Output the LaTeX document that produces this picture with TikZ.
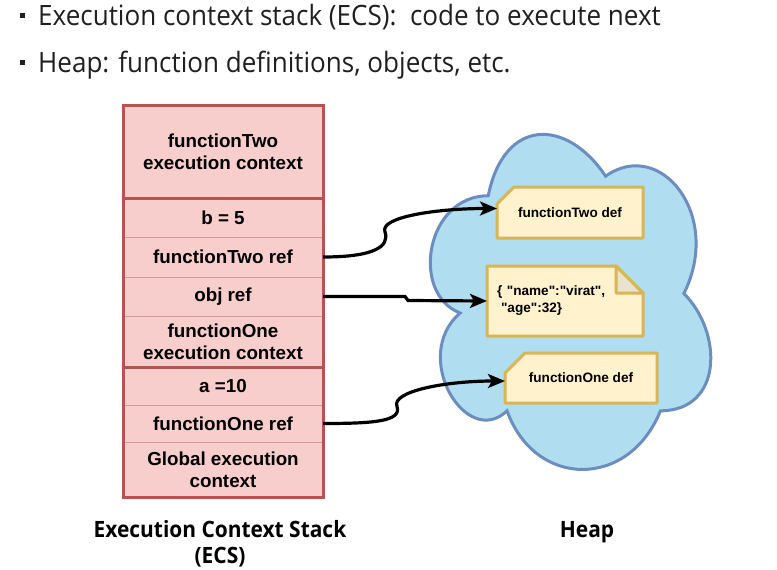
\documentclass[tikz,border=0pt]{standalone}
\usepackage{fontspec}
\setmainfont{Liberation Sans}
\newfontfamily\slidefont[FakeStretch=0.93]{Open Sans}
\usetikzlibrary{positioning,arrows.meta}

\definecolor{stackfill}{HTML}{F8CECC}
\definecolor{stackline}{HTML}{B85450}
\definecolor{stackrule}{HTML}{D49A97}
\definecolor{heapfill}{HTML}{B1DDF0}
\definecolor{heapline}{HTML}{6C8EBF}
\definecolor{notefill}{HTML}{FFF2CC}
\definecolor{noteline}{HTML}{D6B656}
\definecolor{notefold}{HTML}{E9E2CF}
\definecolor{slidetext}{HTML}{1F1F1F}

\pgfdeclarelayer{heaplayer}
\pgfdeclarelayer{notelayer}
\pgfsetlayers{heaplayer,notelayer,main}

\newcommand{\dq}{\textquotedbl{}}

\tikzset{
  cell/.style={fill=stackfill, draw=stackrule, line width=0.8pt, minimum width=200pt,
    inner sep=0pt, outer sep=0pt, align=center, font=\fontsize{18.8}{22}\selectfont\bfseries},
  stackframe/.style={draw=stackline, line width=3pt},
  heapcloud/.style={fill=heapfill, draw=heapline, line width=3pt},
  notebox/.style={fill=notefill, draw=noteline, line width=3pt, line join=round},
  notetext/.style={inner sep=0pt, outer sep=0pt, font=\fontsize{13.6}{17}\selectfont\bfseries},
  link/.style={line width=3.2pt, -{Stealth[length=17pt,width=14pt,inset=4pt]}},
  bullet/.style={fill=slidetext, minimum size=5.5pt, inner sep=0pt},
  slideline/.style={anchor=base west, inner sep=0pt, text=slidetext,
    font=\slidefont\fontsize{28}{34}\selectfont},
  caption/.style={anchor=base, inner sep=0pt, align=center,
    font=\slidefont\bfseries\fontsize{22.5}{26}\selectfont}
}

\begin{document}
\begin{tikzpicture}[x=1pt,y=-1pt]
\useasboundingbox (0,0) rectangle (777,570);

% bullet lines
\node[bullet] (dotOne) at (22.5,15.5) {};
\node[slideline] (lineOne) at (38,25) {Execution context stack (ECS):\ \ code to execute next};
\node[bullet] (dotTwo) at (22.5,62.5) {};
\node[slideline] (lineTwo) at (38,72) {Heap: function definitions, objects, etc.};

% heap
\begin{pgfonlayer}{heaplayer}
\begin{scope}[shift={(410,98)}, xscale=313, yscale=391]
\draw[heapcloud] (0.25,0.25) .. controls (0.05,0.25) and (0,0.5) .. (0.16,0.55)
  .. controls (0,0.66) and (0.18,0.9) .. (0.31,0.8)
  .. controls (0.4,1) and (0.7,1) .. (0.8,0.8)
  .. controls (1,0.8) and (1,0.6) .. (0.875,0.5)
  .. controls (1,0.3) and (0.8,0.1) .. (0.625,0.2)
  .. controls (0.5,0.05) and (0.3,0.05) .. (0.25,0.25) -- cycle;
\end{scope}
\end{pgfonlayer}

\node[notetext, minimum width=146pt, minimum height=51pt] (twoDef) at (570,212.5) {functionTwo def};
\node[notetext, minimum width=156pt, minimum height=70pt, text width=136pt, align=left] (objDef) at (565,301)
  {\{ \dq name\dq:\dq virat\dq,\\\hspace*{4pt}\dq age\dq:32\}};
\node[notetext, minimum width=152pt, minimum height=50pt] (oneDef) at (581,378) {functionOne def};

\begin{pgfonlayer}{notelayer}
\draw[notebox] ([xshift=17pt]twoDef.north west) -- (twoDef.north east) -- (twoDef.south east)
  -- (twoDef.south west) -- ([yshift=-17pt]twoDef.north west) -- cycle;
\draw[notebox] (objDef.north west) -- ([xshift=-27pt]objDef.north east) -- ([yshift=-27pt]objDef.north east)
  -- (objDef.south east) -- (objDef.south west) -- cycle;
\draw[notebox, fill=notefold] ([xshift=-27pt]objDef.north east) -- ([xshift=-27pt,yshift=-27pt]objDef.north east)
  -- ([yshift=-27pt]objDef.north east) -- cycle;
\draw[notebox] ([xshift=20pt]oneDef.north west) -- (oneDef.north east) -- (oneDef.south east)
  -- (oneDef.south west) -- ([yshift=-20pt]oneDef.north west) -- cycle;
\end{pgfonlayer}

% stack
\node[cell, minimum height=93pt, anchor=north] (twoCtx) at (223,105) {\rule{0pt}{12pt}functionTwo\\execution context};
\node[cell, minimum height=39pt, below=0pt of twoCtx] (bFive) {b = 5};
\node[cell, minimum height=40pt, below=0pt of bFive] (twoRef) {functionTwo ref};
\node[cell, minimum height=39pt, below=0pt of twoRef] (objRef) {obj ref};
\node[cell, minimum height=51pt, below=0pt of objRef] (oneCtx) {functionOne\\execution context};
\node[cell, minimum height=38pt, below=0pt of oneCtx] (aTen) {a =10};
\node[cell, minimum height=37pt, below=0pt of aTen] (oneRef) {functionOne ref};
\node[cell, minimum height=55pt, below=0pt of oneRef] (global) {Global execution\\context};
\draw[stackframe] (twoCtx.north west) rectangle (global.south east);
\draw[stackframe] (twoCtx.south west) -- (twoCtx.south east) (oneCtx.south west) -- (oneCtx.south east);

% references
\draw[link] (twoRef.east) .. controls +(50,0) and +(5,15) .. ++(62,-25)
  .. controls +(-6,-15) and +(-60,0) .. ([yshift=4pt]twoDef.west);
\draw[link] (objRef.east) -- ++(82,0) -- ++(3,4) -- (objDef.west);
\draw[link] (oneRef.east) .. controls +(50,0) and +(5,15) .. ++(74,-17)
  .. controls +(-6,-15) and +(-60,0) .. ([yshift=-3pt]oneDef.west);

\node[caption] (ecsCap) at (220,563) {Execution Context Stack\\(ECS)};
\node[caption] (heapCap) at (587,537) {Heap};
\end{tikzpicture}
\end{document}
